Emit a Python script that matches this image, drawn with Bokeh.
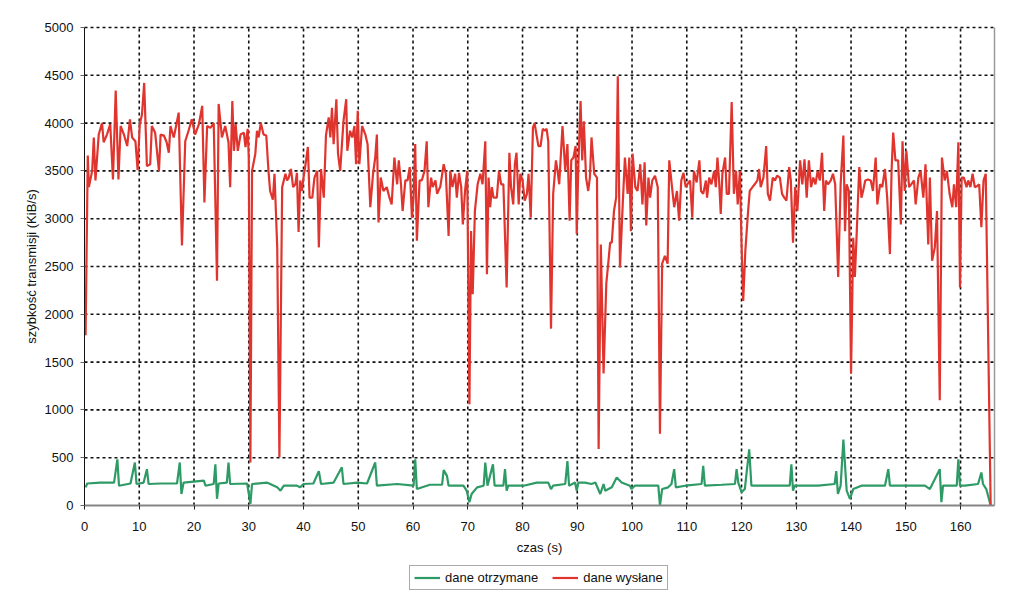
from bokeh.plotting import figure
from bokeh.models import FixedTicker, Legend, LegendItem
from bokeh.embed import file_html
from bokeh.resources import INLINE

x_ticks = list(range(0, 161, 10))
y_ticks = list(range(0, 5001, 500))
x_label = "czas (s)"
y_label = "szybkość transmisji (KiB/s)"
name_recv = "dane otrzymane"
name_sent = "dane wysłane"

sent_t = [
    0.2, 0.6, 0.8, 1.4, 1.7, 2.0, 2.6, 3.2, 3.5, 4.1,
    4.7, 5.2, 5.7, 6.2, 6.6, 7.2, 7.8, 8.3, 8.7, 9.3,
    9.7, 10.1, 10.5, 10.9, 11.4, 12.0, 12.3, 12.9, 13.6, 13.9,
    14.5, 15.0, 15.4, 15.7, 16.3, 16.8, 17.2, 17.8, 18.4, 19.0,
    19.6, 20.2, 20.9, 21.5, 21.9, 22.4, 23.0, 23.6, 24.2, 24.5,
    25.1, 25.7, 26.3, 26.6, 27.0, 27.3, 27.6, 28.0, 28.5, 29.1,
    29.4, 29.8, 30.0, 30.3, 30.6, 31.2, 31.5, 31.8, 32.2, 32.7,
    33.2, 33.6, 33.9, 34.4, 34.7, 35.2, 35.6, 36.1, 36.7, 37.0,
    37.3, 37.7, 38.1, 38.5, 38.8, 39.1, 39.4, 39.7, 40.0, 40.3,
    40.8, 41.1, 41.6, 42.0, 42.5, 42.8, 43.2, 43.7, 44.1, 44.6,
    44.9, 45.2, 45.5, 46.0, 46.3, 46.7, 47.3, 47.8, 48.0, 48.5,
    48.9, 49.3, 49.6, 49.9, 50.2, 50.7, 51.3, 51.7, 52.2, 52.7,
    53.1, 53.4, 53.7, 54.1, 54.6, 55.2, 55.7, 56.1, 56.6, 57.1,
    57.4, 57.8, 58.1, 58.6, 59.0, 59.4, 59.8, 60.1, 60.4, 60.7,
    61.2, 61.6, 62.1, 62.5, 62.8, 63.3, 63.6, 64.1, 64.4, 65.0,
    65.6, 66.0, 66.5, 66.8, 67.2, 67.7, 68.0, 68.4, 68.8, 69.1,
    69.5, 69.9, 70.3, 70.6, 70.9, 71.3, 71.8, 72.3, 72.7, 73.2,
    73.5, 73.8, 74.1, 74.4, 74.7, 75.3, 75.7, 76.1, 76.5, 77.1,
    77.6, 77.9, 78.3, 78.6, 78.9, 79.3, 79.6, 80.0, 80.4, 80.8,
    81.1, 81.5, 81.9, 82.2, 82.9, 83.3, 83.7, 84.1, 84.4, 84.7,
    85.2, 85.6, 86.1, 86.4, 86.7, 87.3, 87.8, 88.2, 88.6, 88.9,
    89.3, 89.7, 89.9, 90.2, 90.6, 90.9, 91.2, 91.6, 92.0, 92.3,
    92.6, 93.1, 93.6, 93.9, 94.3, 94.8, 95.3, 95.7, 96.0, 96.3,
    96.7, 97.1, 97.4, 97.8, 98.3, 98.7, 99.2, 99.5, 99.8, 100.1,
    100.6, 101.0, 101.5, 101.9, 102.3, 102.6, 103.0, 103.3, 103.7, 104.2,
    104.7, 105.1, 105.5, 106.0, 106.5, 106.8, 107.3, 107.7, 108.2, 108.6,
    109.0, 109.4, 109.8, 110.1, 110.6, 111.0, 111.3, 111.8, 112.3, 112.6,
    113.0, 113.5, 113.7, 114.1, 114.5, 115.0, 115.3, 115.6, 115.9, 116.2,
    116.5, 117.0, 117.3, 117.7, 118.2, 118.6, 119.0, 119.3, 119.7, 120.0,
    120.3, 120.7, 121.2, 121.5, 122.0, 122.4, 122.9, 123.2, 123.5, 124.0,
    124.5, 124.8, 125.2, 125.7, 126.1, 126.5, 127.0, 127.4, 127.8, 128.2,
    128.7, 129.0, 129.4, 129.8, 130.2, 130.7, 131.1, 131.5, 131.9, 132.3,
    132.7, 133.1, 133.5, 133.9, 134.3, 134.7, 135.1, 135.4, 135.8, 136.3,
    136.7, 137.1, 137.65, 138.1, 138.6, 138.9, 139.2, 139.6, 140.0, 140.4, 140.7,
    141.0, 141.5, 141.9, 142.2, 142.6, 143.1, 143.6, 144.0, 144.5, 144.8,
    145.3, 145.7, 146.2, 146.6, 147.1, 147.4, 147.7, 148.1, 148.6, 149.1,
    149.4, 149.8, 150.1, 150.6, 151.0, 151.5, 151.8, 152.3, 152.7, 153.2,
    153.6, 154.1, 154.4, 154.8, 155.3, 155.7, 156.2, 156.6, 157.1, 157.5,
    158.0, 158.5, 158.8, 159.2, 159.6, 159.9, 160.2, 160.6, 161.1, 161.4,
    161.8, 162.2, 162.6, 163.0, 163.4, 163.8, 164.2, 164.6, 165.5,
]
sent_v = [
    1780, 3660, 3330, 3500, 3850, 3400, 3880, 4000, 3800, 3880,
    3990, 3410, 4340, 3410, 3970, 3880, 3760, 4040, 3850, 3810,
    3510, 3990, 4090, 4420, 3550, 3570, 3970, 3900, 3500, 3880,
    3870, 3800, 3690, 3970, 3850, 3990, 4110, 2720, 3810, 3920,
    4040, 3880, 3990, 4180, 3170, 3970, 3950, 4000, 2350, 4200,
    3850, 3970, 3800, 3330, 4230, 3710, 3990, 3710, 3880, 3900,
    3750, 3940, 3640, 450, 3500, 3680, 3920, 3850, 4000, 3880,
    3870, 3500, 3290, 3200, 3470, 2700, 505, 3330, 3470, 3400,
    3430, 3520, 3330, 3360, 3480, 2860, 3400, 3290, 3430, 3540,
    3750, 3220, 3220, 3430, 3500, 2700, 3520, 3220, 3870, 4060,
    3850, 4160, 3780, 4250, 3680, 3500, 4020, 4250, 3710, 3920,
    3850, 3970, 3570, 4130, 3570, 3970, 3880, 3780, 3120, 3470,
    3640, 3880, 2960, 3430, 3290, 3330, 3220, 3150, 3640, 3360,
    3610, 3360, 3080, 3400, 3400, 3540, 3010, 3220, 3780, 2770,
    3400, 3400, 3500, 3810, 3120, 3430, 3330, 3400, 3260, 3340,
    3570, 3470, 2820, 3500, 3330, 3470, 3220, 3480, 3330, 2940,
    3290, 3500, 1060, 2870, 2210, 3080, 3360, 3470, 3360, 3810,
    2420, 3430, 3120, 3330, 3220, 3220, 3500, 3360, 3360, 2280,
    3690, 3330, 3150, 3570, 3690, 3150, 3470, 3400, 3190, 3260,
    3470, 3010, 3950, 4000, 3760, 3760, 3940, 3920, 3940, 3810,
    1850, 3260, 3610, 3500, 3360, 3970, 3500, 3780, 2980, 3610,
    3640, 3760, 2840, 3570, 4230, 3610, 4020, 3430, 3290, 3430,
    3850, 3470, 3430, 590, 2730, 1380, 2320, 2560, 2750, 2750,
    3080, 3220, 4490, 2490, 3150, 3640, 3260, 3640, 2870, 3680,
    3330, 3290, 3570, 3150, 3590, 2930, 3430, 3220, 3400, 3450,
    3330, 750, 2530, 2610, 2530, 3610, 3330, 3120, 3290, 2980,
    3400, 3480, 3330, 3360, 3400, 3010, 3500, 3380, 3610, 3290,
    3260, 3400, 3220, 3430, 3360, 3500, 3330, 3640, 3400, 3050,
    3470, 3640, 3260, 3260, 4220, 3260, 3500, 3150, 3500, 2730,
    2140, 2670, 3080, 3290, 3330, 3360, 3400, 3520, 3330, 3430,
    3760, 3260, 3190, 3430, 3400, 3450, 3430, 3260, 3220, 3190,
    3540, 3400, 2750, 3330, 3080, 3610, 3360, 3620, 3220, 3610,
    3330, 3430, 3360, 3500, 3400, 3690, 3080, 3400, 3360, 3400,
    3470, 3360, 2390, 3360, 3870, 2870, 3360, 3290, 1380, 2800, 2390,
    2800, 3540, 3220, 3290, 3400, 3410, 3400, 3290, 3640, 3150,
    3360, 3330, 3520, 3220, 2630, 3500, 3900, 3610, 3610, 2940,
    3810, 3290, 3710, 3330, 3360, 3400, 3150, 3430, 3500, 3220,
    3570, 2730, 3430, 2560, 2700, 3080, 1100, 3640, 3400, 3500,
    3260, 3120, 3360, 3120, 3800, 2280, 3430, 3430, 3330, 3400,
    3330, 3470, 3330, 3340, 3360, 2910, 3400, 3470, 0,
]

recv_t = [
    0.2, 0.5, 2.9, 5.4, 6.0, 6.3, 8.4, 9.2, 9.5, 10.8,
    11.4, 11.7, 13.9, 16.9, 17.4, 17.7, 18.1, 21.8, 22.1, 23.6,
    23.9, 24.2, 24.5, 26.0, 26.3, 26.6, 29.7, 30.3, 30.6, 33.3,
    35.2, 35.8, 36.4, 38.8, 39.4, 40.0, 41.8, 42.8, 43.2, 45.5,
    47.0, 47.3, 49.8, 51.6, 53.1, 53.4, 57.1, 60.1, 60.4, 60.7,
    63.1, 65.3, 65.6, 66.2, 66.5, 69.2, 69.8, 70.3, 70.7, 71.7,
    72.9, 73.2, 73.6, 74.6, 74.9, 76.5, 76.8, 77.1, 77.4, 80.2,
    82.6, 84.7, 85.2, 85.6, 87.8, 88.2, 88.5, 89.6, 89.9, 90.2,
    91.4, 92.6, 93.3, 94.2, 94.8, 95.1, 96.3, 97.2, 98.1, 99.6,
    99.9, 100.5, 103.0, 104.8, 105.1, 105.5, 106.6, 107.2, 107.7, 108.0,
    109.7, 112.7, 113.0, 113.3, 116.4, 118.8, 119.1, 119.4, 120.0, 120.6,
    121.4, 121.8, 124.9, 128.8, 129.1, 129.4, 129.7, 134.0, 137.0, 137.3,
    137.6, 138.1, 138.6, 139.2, 139.8, 140.4, 141.9, 146.2, 146.8, 147.1,
    149.8, 153.5, 154.4, 156.2, 156.5, 156.8, 159.3, 159.6, 159.9, 160.8,
    163.2, 163.8, 164.1, 164.7, 165.5,
]
recv_v = [
    190, 230, 240, 240, 483, 207, 230, 450, 225, 240,
    380, 225, 230, 230, 450, 120, 240, 260, 207, 225,
    430, 70, 230, 240, 450, 225, 230, 17, 225, 240,
    190, 155, 207, 207, 190, 225, 230, 360, 225, 240,
    400, 225, 240, 230, 450, 207, 225, 207, 483, 172,
    217, 217, 370, 310, 207, 207, 155, 35, 120, 190,
    207, 450, 207, 430, 207, 207, 380, 155, 207, 207,
    240, 240, 172, 207, 225, 465, 207, 240, 155, 240,
    240, 225, 240, 120, 225, 155, 190, 293, 240, 207,
    172, 207, 207, 207, 0, 172, 190, 225, 380, 190,
    207, 225, 415, 207, 217, 225, 380, 240, 140, 172,
    587, 207, 207, 207, 430, 155, 207, 207, 225, 360,
    120, 207, 690, 155, 70, 172, 207, 207, 380, 207,
    207, 207, 172, 380, 35, 207, 207, 483, 207, 207,
    225, 345, 225, 172, 0,
]

assert len(sent_t) == len(sent_v), (len(sent_t), len(sent_v))
assert len(recv_t) == len(recv_v), (len(recv_t), len(recv_v))

FONT = "Liberation Sans"
RED = "#E0352E"
GREEN = "#2E9B66"
X_END = 166.2          # right edge of the plotting area (s)
Y_MAX = 5000

# Whole canvas is the frame, so axes, labels and legend are all drawn inside it.
W, H = 1016, 600
LEFT, TOP, PLOT_W, PLOT_H = 84, 27, 910, 478
KX = PLOT_W / X_END
KY = PLOT_H / Y_MAX
x_range = (-LEFT / KX, (W - LEFT) / KX)
y_range = (-(H - TOP - PLOT_H) / KY, Y_MAX + TOP / KY)

p = figure(width=W, height=H, x_range=x_range, y_range=y_range,
           output_backend="svg", toolbar_location=None,
           min_border_left=0, min_border_right=0, min_border_top=0,
           min_border_bottom=0)
p.outline_line_color = None
p.background_fill_color = "white"
p.border_fill_color = "white"

for ax in (p.xaxis[0], p.yaxis[0]):
    ax.major_label_text_font = FONT
    ax.major_label_text_font_size = "13px"
    ax.major_label_text_color = "#111111"
    ax.axis_label_text_font = FONT
    ax.axis_label_text_font_size = "13px"
    ax.axis_label_text_font_style = "normal"
    ax.axis_label_text_color = "#111111"
    ax.minor_tick_line_color = None
    ax.major_tick_in = 0
    ax.major_tick_out = 4

p.xaxis.fixed_location = 0
p.yaxis.fixed_location = 0
p.xaxis.ticker = FixedTicker(ticks=x_ticks)
p.xaxis.bounds = (0, X_END)
p.yaxis.ticker = FixedTicker(ticks=y_ticks)
p.yaxis.bounds = (0, Y_MAX)
p.xaxis.axis_label = x_label
p.yaxis.axis_label = y_label
p.xaxis.axis_line_color = "#858585"
p.xaxis.axis_line_width = 2
p.xaxis.major_tick_line_color = "#222222"
p.xaxis.major_label_standoff = 12
p.xaxis.axis_label_standoff = 6
p.yaxis.axis_line_color = "#111111"
p.yaxis.axis_line_width = 1
p.yaxis.major_tick_line_color = "#666666"
p.yaxis.major_label_standoff = 7
p.yaxis.axis_label_standoff = 3

p.xgrid.visible = False
p.ygrid.visible = False

GRID_COLOR = "#111111"
GRID_W = 1.6
GRID_DASH = "3 3"
gx = x_ticks[1:]
p.segment(x0=gx, y0=[0] * len(gx), x1=gx, y1=[Y_MAX] * len(gx),
          line_color=GRID_COLOR, line_width=GRID_W, line_dash=GRID_DASH)
gy = y_ticks[1:]
p.segment(x0=[0] * len(gy), y0=gy, x1=[X_END] * len(gy), y1=gy,
          line_color=GRID_COLOR, line_width=GRID_W, line_dash=GRID_DASH)
# light right border of the plotting area
p.segment(x0=[X_END], y0=[0], x1=[X_END], y1=[Y_MAX], line_color="#9a9a9a", line_width=1.5)

r_recv = p.line(recv_t, recv_v, line_color=GREEN, line_width=2.2)
r_sent = p.line(sent_t, sent_v, line_color=RED, line_width=2.2)

legend = Legend(items=[LegendItem(label=name_recv, renderers=[r_recv]),
                       LegendItem(label=name_sent, renderers=[r_sent])],
                orientation="horizontal", location=(409, 10))
legend.label_text_font = FONT
legend.label_text_font_size = "13px"
legend.label_text_color = "#111111"
legend.glyph_width = 26
legend.glyph_height = 13
legend.label_standoff = 5
legend.spacing = 14
legend.padding = 4
legend.margin = 0
legend.border_line_color = "#555555"
legend.border_line_width = 1
legend.background_fill_color = "white"
legend.background_fill_alpha = 1
p.add_layout(legend, "center")

open("out.html", "w").write(file_html(p, INLINE))
